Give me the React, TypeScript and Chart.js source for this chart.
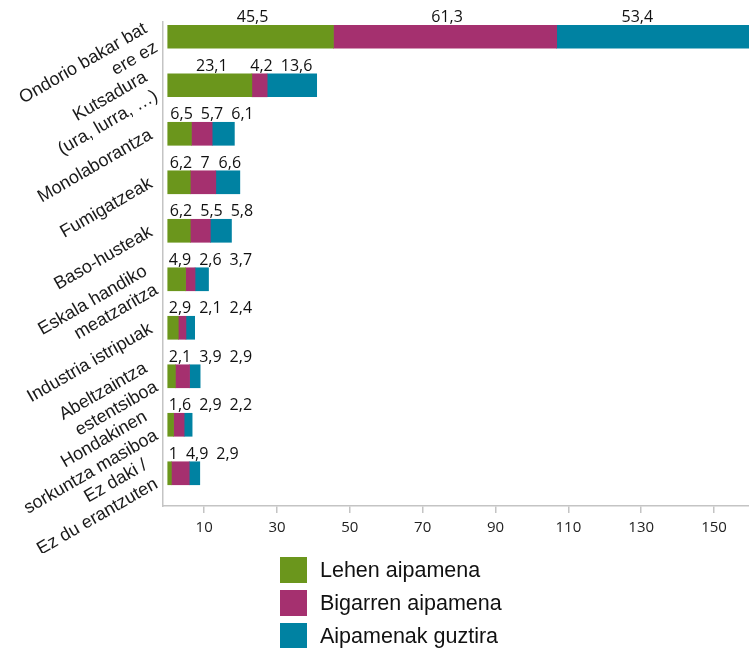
import React, { useEffect, useRef } from "react";
import { Chart, registerables } from "chart.js";

Chart.register(...registerables);

const categories: (string | string[])[] = [
  ["Ondorio bakar bat", "ere ez"],
  ["Kutsadura", "(ura, lurra, …)"],
  "Monolaborantza",
  "Fumigatzeak",
  "Baso-husteak",
  ["Eskala handiko", "meatzaritza"],
  "Industria istripuak",
  ["Abeltzaintza", "estentsiboa"],
  ["Hondakinen", "sorkuntza masiboa"],
  ["Ez daki /", "Ez du erantzuten"],
];

const lehenAipamena = [45.5, 23.1, 6.5, 6.2, 6.2, 4.9, 2.9, 2.1, 1.6, 1];
const bigarrenAipamena = [61.3, 4.2, 5.7, 7, 5.5, 2.6, 2.1, 3.9, 2.9, 4.9];
const aipamenakGuztira = [53.4, 13.6, 6.1, 6.6, 5.8, 3.7, 2.4, 2.9, 2.2, 2.9];

const seriesLabels = ["Lehen aipamena", "Bigarren aipamena", "Aipamenak guztira"];
const seriesColors = ["#6b961c", "#a5306f", "#0082a2"];
const xTickValues = [10, 30, 50, 70, 90, 110, 130, 150];

const fmt = (v: number) => String(v).replace(".", ",");

const valueLabelPlugin = {
  id: "valueLabels",
  afterDatasetsDraw(chart: any) {
    const ctx = chart.ctx;
    const xScale = chart.scales.x;
    const lastTick = xScale.getPixelForValue(xTickValues[xTickValues.length - 1]);
    ctx.save();
    ctx.font = "16px 'Open Sans'";
    ctx.fillStyle = "#111111";
    ctx.textAlign = "center";
    ctx.textBaseline = "alphabetic";
    const n = chart.data.labels.length;
    for (let i = 0; i < n; i++) {
      let prevRight = -Infinity;
      chart.data.datasets.forEach((ds: any, d: number) => {
        const meta = chart.getDatasetMeta(d);
        const el = meta.data[i];
        if (!el) return;
        const p = el.getProps(["x", "base", "y", "height"], true);
        const start = Math.min(p.x, p.base);
        const end = Math.min(Math.max(p.x, p.base), lastTick);
        if (d === 0) prevRight = start - 7;
        const txt = fmt(ds.data[i]);
        const w = ctx.measureText(txt).width;
        let cx = (start + end) / 2 + 2;
        if (cx - w / 2 < prevRight + 8) cx = prevRight + 8 + w / 2;
        prevRight = cx + w / 2;
        ctx.fillText(txt, cx, p.y - p.height / 2 - 3);
      });
    }
    ctx.restore();
  },
};

export default function App() {
  const ref = useRef<HTMLCanvasElement | null>(null);

  useEffect(() => {
    if (!ref.current) return;
    const datasets = [lehenAipamena, bigarrenAipamena, aipamenakGuztira].map((data, k) => ({
      label: seriesLabels[k],
      data,
      backgroundColor: seriesColors[k],
      borderWidth: 0,
      barThickness: 23,
    }));
    const chart = new Chart(ref.current, {
      type: "bar",
      data: { labels: categories as any, datasets },
      plugins: [valueLabelPlugin],
      options: {
        indexAxis: "y",
        responsive: false,
        animation: false,
        layout: { padding: { top: 14, right: 0, bottom: 0, left: 0 } },
        plugins: {
          legend: { display: false },
          tooltip: { enabled: false },
        },
        scales: {
          x: {
            type: "linear",
            stacked: true,
            min: -1.3,
            max: 159.6,
            afterBuildTicks: (scale: any) => {
              scale.ticks = xTickValues.map((v) => ({ value: v }));
            },
            afterFit: (scale: any) => {
              scale.height = 47;
              scale.paddingLeft = 0;
              scale.paddingRight = 0;
            },
            grid: {
              display: true,
              drawOnChartArea: false,
              drawTicks: true,
              tickLength: 7,
              color: "#c4c4c4",
              lineWidth: 1.5,
            },
            border: { display: true, color: "#c4c4c4", width: 1.5 },
            ticks: {
              font: { family: "'Open Sans'", size: 15 },
              color: "#222222",
              padding: 6,
              maxRotation: 0,
            },
          },
          y: {
            type: "category",
            stacked: true,
            afterBuildTicks: (scale: any) => {
              scale._startValue = -0.305;
              scale._valueRange = 9.98;
            },
            afterFit: (scale: any) => {
              scale.width = 155;
              scale.paddingTop = 0;
              scale.paddingBottom = 0;
            },
            grid: { display: false, drawTicks: false },
            border: { display: true, color: "#c4c4c4", width: 1.5 },
            ticks: {
              font: { family: "'Liberation Sans', Arial, sans-serif", size: 18 },
              color: "#1a1a1a",
              padding: 12,
              minRotation: 30,
              maxRotation: 30,
              autoSkip: false,
            },
          },
        },
      } as any,
    });
    return () => chart.destroy();
  }, []);

  return (
    <div style={{ position: "fixed", left: 8, top: 8, width: 741, height: 640, overflow: "hidden" }}>
      <canvas ref={ref} width={741} height={545} style={{ display: "block", width: 741, height: 545 }} />
      <div style={{ position: "absolute", left: 272, top: 549.3 }}>
        {seriesLabels.map((lab, k) => (
          <div key={lab} style={{ display: "flex", alignItems: "center", height: 26, marginBottom: 7 }}>
            <div style={{ width: 27, height: 26, background: seriesColors[k], marginRight: 13, flex: "none" }} />
            <span style={{ fontFamily: "'Liberation Sans', Arial, sans-serif", fontSize: 21.5, lineHeight: "26px", color: "#111", whiteSpace: "nowrap" }}>
              {lab}
            </span>
          </div>
        ))}
      </div>
    </div>
  );
}
